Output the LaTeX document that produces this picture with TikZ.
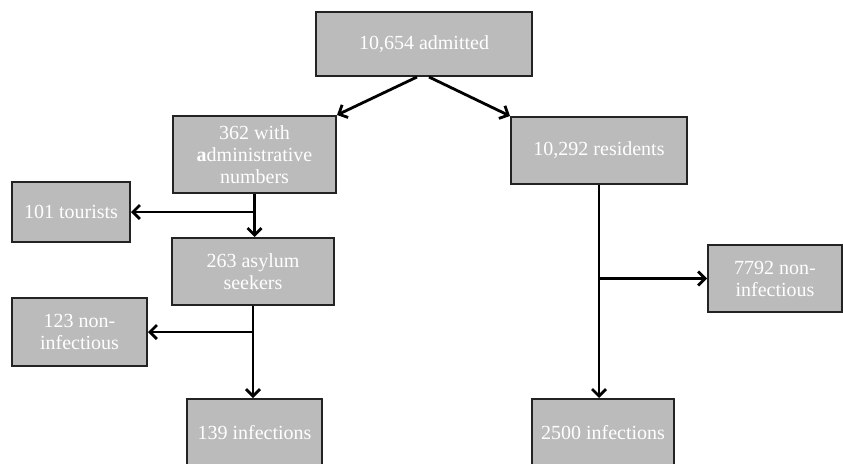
\documentclass[tikz,border=0pt]{standalone}
\usepackage{fontspec}
\setmainfont{Liberation Serif}
\usetikzlibrary{positioning,arrows.meta}
\definecolor{boxgray}{RGB}{187,187,187}
\definecolor{edgegray}{RGB}{35,35,35}
\tikzstyle{box} = [rectangle, draw=edgegray, line width=2pt, fill=boxgray, %
   text=white, align=center, inner sep=0pt, font=\fontsize{20}{22}\selectfont]
\tikzstyle{line} = [draw, line width=2.8pt, -{Straight Barb[length=7pt,width=14pt]}]

\begin{document}
\begin{tikzpicture}[x=1pt,y=-1pt]
         \useasboundingbox (0,0) rectangle (843,463);
         \clip (0,0) rectangle (843,463);

      % TOP %%%%%%%%%%%%%%%%%%%%%%%%%%%%%%%%%%%%%%%%%%%%%%%%%%
         \node[box, minimum width=216pt, minimum height=64pt] (admitted) at (424,44) {10,654 admitted};

      % LEFT BRANCH
         \node[box, minimum width=163pt, minimum height=77pt] (admin) at (254.5,154.5) {%
            362 with\\\textbf{a}dministrative\\numbers};
         \node[box, minimum width=118pt, minimum height=60pt] (tourists) at (71,212) {101 tourists};
         \node[box, minimum width=162pt, minimum height=67pt] (asylum) at (253,271.5) {263 asylum\\seekers};
         \node[box, minimum width=135pt, minimum height=68pt] (noninfa) at (79.5,332) {123 non-\\infectious};
         \node[box, minimum width=135pt, minimum height=68pt] (infa) at (254.5,433) {139 infections};

      % RIGHT BRANCH
         \node[box, minimum width=176pt, minimum height=67pt] (residents) at (599,150.5) {10,292 residents};
         \node[box, minimum width=134pt, minimum height=67pt] (noninfb) at (775,278.5) {7792 non-\\infectious};
         \node[box, minimum width=142pt, minimum height=68pt] (infb) at (603,433) {2500 infections};

         % Draw edges
         \path [line] ([xshift=-7pt]admitted.south) -- (admin.north east);
         \path [line] ([xshift=5pt]admitted.south) -- (residents.north west);
         % left spine
         \path [line] (admin.south) -- (admin.south |- asylum.north);
         \path [line] (admin.south |- tourists.east) -- (tourists.east);
         \path [line] (asylum.south) -- (asylum.south |- infa.north);
         \path [line] (asylum.south |- noninfa.east) -- (noninfa.east);
         % right spine
         \path [line] (residents.south) -- (residents.south |- infb.north);
         \path [line] (residents.south |- noninfb.west) -- (noninfb.west);

      \end{tikzpicture}
\end{document}
